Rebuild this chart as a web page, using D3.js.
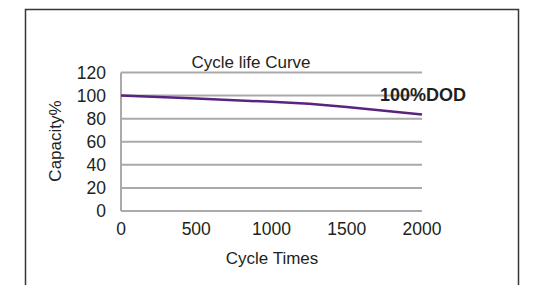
<!DOCTYPE html>
<html>
<head>
<meta charset="utf-8">
<script src="https://cdn.jsdelivr.net/npm/d3@7"></script>
<style>
  body { margin: 0; background: #fff; }
  text { font-family: "Liberation Sans", Arial, sans-serif; fill: #231f20; }
</style>
</head>
<body>
<div id="chart"></div>
<script>
// Cycle life data
var cycles = [0, 500, 1000, 1250, 1500, 2000];
var capacity = [100, 97.4, 94.6, 93, 90.2, 83.6];
var yTicks = [0, 20, 40, 60, 80, 100, 120];
var xTicks = [0, 500, 1000, 1500, 2000];
var seriesLabel = "100%DOD";

var width = 541;
var height = 285;

var svg = d3.select("#chart").append("svg")
  .attr("width", width)
  .attr("height", height);

// outer frame (bottom runs off the picture)
svg.append("path")
  .attr("d", "M25.5,300V9.5H518.5V300")
  .attr("fill", "none")
  .attr("stroke", "#3a3433")
  .attr("stroke-width", 1.5);

var x = d3.scaleLinear().domain([0, 2000]).range([121, 422]);
var y = d3.scaleLinear().domain([0, 120]).range([211, 72.5]);

// grid lines
svg.selectAll(".grid")
  .data(yTicks)
  .enter().append("line")
  .attr("x1", x(0)).attr("x2", x(2000))
  .attr("y1", function(d) { return y(d); })
  .attr("y2", function(d) { return y(d); })
  .attr("stroke", "#aaa")
  .attr("stroke-width", 2);

svg.append("line")
  .attr("x1", x(0)).attr("x2", x(0))
  .attr("y1", y(120)).attr("y2", y(0))
  .attr("stroke", "#aaa")
  .attr("stroke-width", 2);

// tick labels
svg.selectAll(".ytick")
  .data(yTicks)
  .enter().append("text")
  .attr("x", 106)
  .attr("y", function(d) { return y(d) + 6; })
  .attr("text-anchor", "end")
  .style("font-size", "17.5px")
  .text(function(d) { return d; });

svg.selectAll(".xtick")
  .data(xTicks)
  .enter().append("text")
  .attr("x", function(d) { return x(d); })
  .attr("y", 235)
  .attr("text-anchor", "middle")
  .style("font-size", "17.5px")
  .text(function(d) { return d; });

// titles
svg.append("text")
  .attr("x", 251).attr("y", 68)
  .attr("text-anchor", "middle")
  .style("font-size", "17px")
  .text("Cycle life Curve");

svg.append("text")
  .attr("x", 272).attr("y", 264)
  .attr("text-anchor", "middle")
  .style("font-size", "17px")
  .text("Cycle Times");

svg.append("text")
  .attr("transform", "translate(61,141) rotate(-90)")
  .attr("text-anchor", "middle")
  .style("font-size", "17px")
  .text("Capacity%");

// series
var line = d3.line()
  .x(function(d, i) { return x(cycles[i]); })
  .y(function(d) { return y(d); });

svg.append("path")
  .datum(capacity)
  .attr("d", line)
  .attr("fill", "none")
  .attr("stroke", "#5b2380")
  .attr("stroke-width", 2.5);

svg.append("text")
  .attr("x", 380).attr("y", 101)
  .style("font-size", "18px")
  .style("font-weight", "bold")
  .text(seriesLabel);
</script>
</body>
</html>
